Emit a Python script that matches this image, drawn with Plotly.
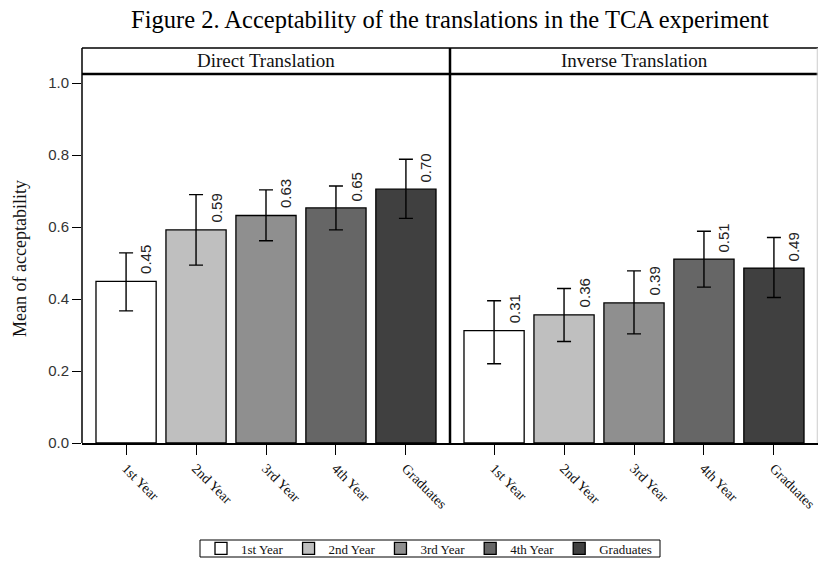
import plotly.graph_objects as go

categories = ["1st Year", "2nd Year", "3rd Year", "4th Year", "Graduates"]
panels = ["Direct Translation", "Inverse Translation"]
direct_mean = [0.449, 0.592, 0.632, 0.653, 0.705]
direct_lo = [0.367, 0.494, 0.562, 0.592, 0.624]
direct_hi = [0.528, 0.690, 0.703, 0.714, 0.788]
inverse_mean = [0.312, 0.356, 0.389, 0.511, 0.486]
inverse_lo = [0.220, 0.282, 0.303, 0.433, 0.404]
inverse_hi = [0.395, 0.429, 0.478, 0.588, 0.571]
value_labels_direct = ["0.45", "0.59", "0.63", "0.65", "0.70"]
value_labels_inverse = ["0.31", "0.36", "0.39", "0.51", "0.49"]
y_ticks = [0.0, 0.2, 0.4, 0.6, 0.8, 1.0]
colors = ["#ffffff", "#bfbfbf", "#8f8f8f", "#666666", "#404040"]

serif = "Liberation Serif, Times New Roman, serif"
sans = "Liberation Sans Narrow, Liberation Sans, Arial, sans-serif"

fig = go.Figure()
data = [(direct_mean, direct_lo, direct_hi, value_labels_direct, "x", True),
        (inverse_mean, inverse_lo, inverse_hi, value_labels_inverse, "x2", False)]
for means, lo, hi, labs, xax, show in data:
    for i, c in enumerate(categories):
        fig.add_trace(go.Bar(
            x=[i], y=[means[i]], name=c, legendgroup=c, showlegend=show,
            xaxis=xax, yaxis="y", width=0.86,
            marker=dict(color=colors[i], line=dict(color="black", width=1.3)),
            error_y=dict(type="data", symmetric=False,
                         array=[hi[i] - means[i]], arrayminus=[means[i] - lo[i]],
                         color="black", thickness=1.4, width=7),
        ))
        fig.add_annotation(x=i, y=means[i], xref=xax, yref="y", text=labs[i],
                           textangle=-90, showarrow=False, xanchor="center",
                           yanchor="bottom", xshift=20, yshift=5,
                           font=dict(family=sans, size=15, color="#222"))

xcommon = dict(range=[-0.63, 4.63], tickmode="array", tickvals=list(range(5)),
               ticktext=categories, tickangle=45, ticks="outside", ticklen=10,
               tickcolor="black", showline=True, linecolor="black", linewidth=1.5,
               showgrid=False, zeroline=False, ticklabeloverflow="allow",
               tickfont=dict(family=serif, size=14, color="#111"))
fig.update_layout(
    xaxis=dict(domain=[0, 0.5], **xcommon),
    xaxis2=dict(domain=[0.5, 1], **xcommon),
    yaxis=dict(range=[0, 1.025], tickvals=y_ticks,
               ticktext=[f"{v:.1f}" for v in y_ticks],
               ticks="outside", ticklen=9, tickcolor="black", showgrid=False,
               zeroline=False, showline=False,
               tickfont=dict(family=sans, size=15, color="#333"),
               title=dict(text="Mean of acceptability",
                          font=dict(family=serif, size=18, color="#111"),
                          standoff=16)),
    width=818, height=581,
    margin=dict(l=82, r=0, t=74, b=138),
    plot_bgcolor="white", paper_bgcolor="white",
    barmode="overlay", showlegend=True,
    legend=dict(orientation="h", x=(429 - 82) / 736, xanchor="center",
                y=(443 - 548.5) / 369, yanchor="middle", borderwidth=0,
                bgcolor="rgba(0,0,0,0)",
                font=dict(family=serif, size=13, color="#111"),
                itemwidth=30, tracegroupgap=0),
    title=dict(text="Figure 2. Acceptability of the translations in the TCA experiment",
               x=0.5, xref="paper", y=1 - 19 / 581, yref="container",
               xanchor="center", yanchor="middle",
               font=dict(family=serif, size=24.5, color="black")),
)

hdr_top = 1 + 26 / 369
shapes = [
    dict(type="line", xref="paper", yref="paper", x0=0, x1=1, y0=hdr_top, y1=hdr_top,
         line=dict(color="black", width=1.5)),
    dict(type="line", xref="paper", yref="paper", x0=0, x1=1, y0=1, y1=1,
         line=dict(color="black", width=2.5)),
    dict(type="line", xref="paper", yref="paper", x0=0, x1=0, y0=0, y1=hdr_top,
         line=dict(color="black", width=1.5)),
    dict(type="line", xref="paper", yref="paper", x0=0.5, x1=0.5, y0=0, y1=hdr_top,
         line=dict(color="black", width=2.5)),
    dict(type="line", xref="paper", yref="paper", x0=0.999, x1=0.999, y0=0, y1=hdr_top,
         line=dict(color="#cccccc", width=1)),
    dict(type="rect", xref="paper", yref="paper",
         x0=(200 - 82) / 736, x1=(660 - 82) / 736,
         y0=(443 - 540) / 369, y1=(443 - 557) / 369,
         line=dict(color="black", width=1), fillcolor="rgba(0,0,0,0)"),
]
fig.update_layout(shapes=shapes)
for k, p in enumerate(panels):
    fig.add_annotation(x=0.25 + 0.5 * k, y=(1 + hdr_top) / 2, xref="paper", yref="paper",
                       text=p, showarrow=False, xanchor="center", yanchor="middle",
                       font=dict(family=serif, size=19, color="#111"))

fig.write_html("out.html", config={"displayModeBar": False},
               post_script="document.body.style.margin='0';")
